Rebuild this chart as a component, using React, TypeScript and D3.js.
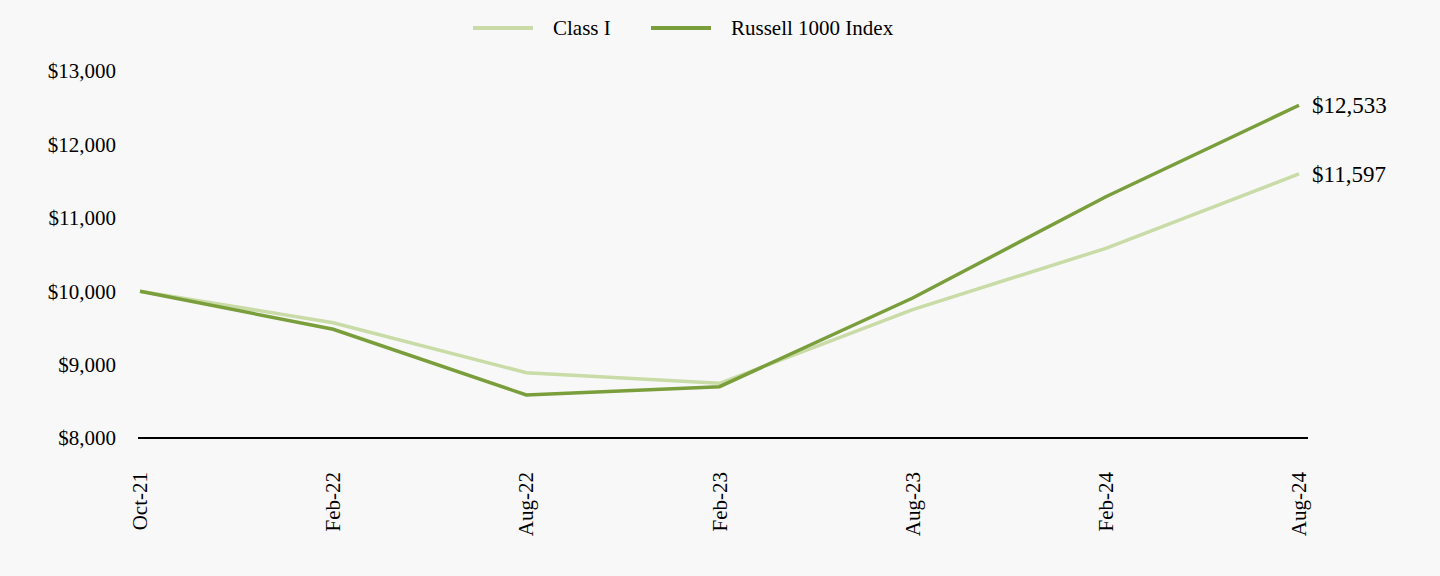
import React from "react";
import * as d3 from "d3";

const categories = ["Oct-21", "Feb-22", "Aug-22", "Feb-23", "Aug-23", "Feb-24", "Aug-24"];
const classI = [10000, 9571, 8890, 8745, 9750, 10584, 11597];
const russell = [10000, 9481, 8586, 8699, 9907, 11287, 12533];
const yTicks = [8000, 9000, 10000, 11000, 12000, 13000];
const seriesNames = ["Class I", "Russell 1000 Index"];
const seriesColors = ["#c9dba6", "#7a9e3b"];

const W = 1440;
const H = 576;
const FONT = "'Liberation Serif', 'Times New Roman', serif";

export default function App() {
  const x = d3.scalePoint<string>().domain(categories).range([140, 1299]);
  const y = d3.scaleLinear().domain([8000, 13000]).range([438, 71]);
  const fmt = (v: number) => "$" + d3.format(",")(v);
  const line = d3
    .line<number>()
    .x((_, i) => x(categories[i]) as number)
    .y((d) => y(d));
  const series = [classI, russell];

  return (
    <svg
      width={W}
      height={H}
      style={{ position: "absolute", left: 0, top: 0, background: "#f8f8f8", fontFamily: FONT }}
    >
      <rect x={0} y={0} width={W} height={H} fill="#f8f8f8" />
      {/* legend */}
      {seriesNames.map((name, i) => {
        const lx = [473, 651][i];
        return (
          <g key={name}>
            <line x1={lx} x2={lx + 60} y1={28} y2={28} stroke={seriesColors[i]} strokeWidth={4} />
            <text x={lx + 80} y={35} fontSize={21} fill="#000">
              {name}
            </text>
          </g>
        );
      })}
      {/* y tick labels */}
      {yTicks.map((t) => (
        <text key={t} x={116} y={y(t)} dy="0.35em" textAnchor="end" fontSize={21} fill="#000">
          {fmt(t)}
        </text>
      ))}
      {/* x axis line */}
      <line x1={138} x2={1308} y1={y(8000)} y2={y(8000)} stroke="#000" strokeWidth={2} />
      {/* x labels */}
      {categories.map((c) => (
        <text
          key={c}
          transform={`translate(${(x(c) as number) + 7},472) rotate(-90)`}
          textAnchor="end"
          fontSize={21}
          fill="#000"
        >
          {c}
        </text>
      ))}
      {/* lines */}
      {series.map((s, i) => (
        <path key={i} d={line(s) || ""} fill="none" stroke={seriesColors[i]} strokeWidth={3.5} />
      ))}
      {/* end labels */}
      {series.map((s, i) => (
        <text
          key={"e" + i}
          x={1312}
          y={y(s[s.length - 1])}
          dy="0.35em"
          fontSize={23}
          fill="#000"
        >
          {fmt(s[s.length - 1])}
        </text>
      ))}
    </svg>
  );
}
